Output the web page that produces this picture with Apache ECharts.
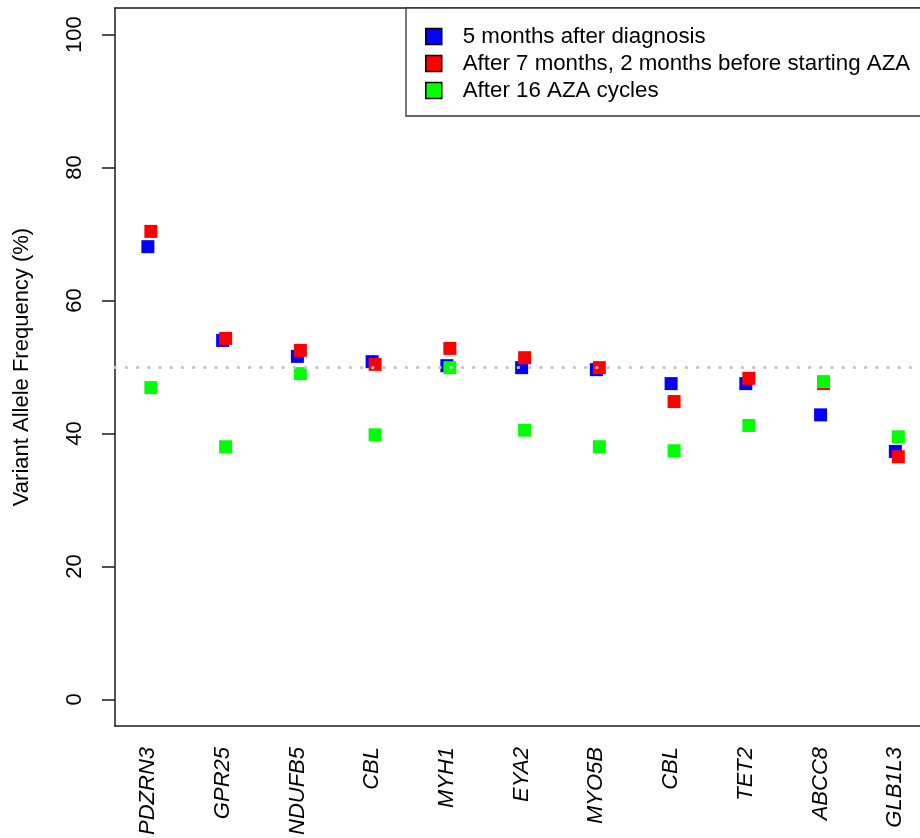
<!DOCTYPE html>
<html>
<head>
<meta charset="utf-8">
<script src="https://cdn.jsdelivr.net/npm/echarts@6/dist/echarts.min.js"></script>
<style>
  html, body { margin: 0; padding: 0; background: #fff; }
  #chart { width: 920px; height: 838px; }
</style>
</head>
<body>
<div id="chart"></div>
<script>
// gene names on the x axis
var genes = ['PDZRN3', 'GPR25', 'NDUFB5', 'CBL', 'MYH1', 'EYA2', 'MYO5B', 'CBL', 'TET2', 'ABCC8', 'GLB1L3'];
// variant allele frequency (%) per time point
var vaf5months = [68.1, 54.0, 51.6, 50.8, 50.2, 49.9, 49.6, 47.5, 47.5, 42.8, 37.3];
var vaf7months = [70.4, 54.3, 52.5, 50.4, 52.8, 51.4, 49.9, 44.8, 48.3, 47.5, 36.5];
var vafAfterAza = [46.9, 38.0, 49.0, 39.8, 49.9, 40.5, 38.0, 37.4, 41.2, 47.8, 39.5];
var yTicks = [0, 20, 40, 60, 80, 100];
var seriesNames = ['5 months after diagnosis', 'After 7 months, 2 months before starting AZA', 'After 16 AZA cycles'];

var font = 'Liberation Sans, Arial, sans-serif';
var frame = { show: true, onZero: false, lineStyle: { color: '#1a1a1a', width: 1.5 } };

// points of later samples sit a little to the right of the first one
function toPoints(vals, shift) {
    return vals.map(function (v, i) { return [i + 1 + shift, v]; });
}

var chart = echarts.init(document.getElementById('chart'));

var option = {
    backgroundColor: '#fff',
    animation: false,
    textStyle: { fontFamily: font },
    // plot runs off the right edge, like the cropped original
    grid: {
        left: 115,
        top: 8,
        right: 0,
        height: 718
    },
    // legend frame, open to the right (cut by the page edge)
    graphic: [{
        type: 'rect',
        z: 3,
        shape: { x: 406, y: 8, width: 560, height: 108 },
        style: { fill: '#fff', stroke: '#333', lineWidth: 1.3 }
    }],
    legend: {
        z: 5,
        orient: 'vertical',
        left: 406,
        top: 8,
        padding: [15, 10, 13, 19],
        itemGap: 0,
        itemWidth: 16,
        itemHeight: 16,
        icon: 'rect',
        itemStyle: { borderColor: '#000', borderWidth: 1.5 },
        textStyle: { fontSize: 22.3, color: '#000', lineHeight: 27, padding: [0, 0, 0, 16], fontFamily: font },
        data: seriesNames
    },
    xAxis: [
        {
            type: 'value',
            min: 0.56,
            max: 11.33,
            splitLine: { show: false },
            axisLine: frame,
            axisTick: { show: false },
            axisLabel: {
                customValues: genes.map(function (g, i) { return i + 1; }),
                formatter: function (v) { return genes[Math.round(v) - 1]; },
                rotate: 90,
                margin: 21,
                fontSize: 22,
                fontStyle: 'italic',
                color: '#000',
                fontFamily: font
            }
        },
        {
            type: 'value',
            position: 'top',
            min: 0.56,
            max: 11.33,
            splitLine: { show: false },
            axisLine: frame,
            axisTick: { show: false },
            axisLabel: { show: false }
        }
    ],
    yAxis: {
        type: 'value',
        min: -4,
        max: 104,
        name: 'Variant Allele Frequency (%)',
        nameLocation: 'middle',
        nameRotate: 90,
        nameGap: 82,
        nameTextStyle: { fontSize: 22, color: '#000', fontFamily: font },
        splitLine: { show: false },
        axisLine: frame,
        axisTick: {
            show: true,
            customValues: yTicks,
            length: 13,
            lineStyle: { color: '#1a1a1a', width: 1.5 }
        },
        axisLabel: {
            customValues: yTicks,
            rotate: 90,
            margin: 29,
            fontSize: 22,
            color: '#000',
            fontFamily: font
        }
    },
    series: [
        {
            name: seriesNames[0],
            type: 'scatter',
            symbol: 'rect',
            symbolSize: 13,
            itemStyle: { color: '#0000ff', opacity: 1 },
            data: toPoints(vaf5months, 0),
            markLine: {
                silent: true,
                symbol: 'none',
                label: { show: false },
                lineStyle: { color: '#c4c4c4', type: [0.5, 10.7], width: 3, cap: 'round' },
                data: [{ yAxis: 50 }]
            }
        },
        {
            name: seriesNames[1],
            type: 'scatter',
            symbol: 'rect',
            symbolSize: 13,
            itemStyle: { color: '#ff0000', opacity: 1 },
            data: toPoints(vaf7months, 0.04)
        },
        {
            name: seriesNames[2],
            type: 'scatter',
            symbol: 'rect',
            symbolSize: 13,
            itemStyle: { color: '#00ff00', opacity: 1 },
            data: toPoints(vafAfterAza, 0.04)
        }
    ]
};

chart.setOption(option);
</script>
</body>
</html>
